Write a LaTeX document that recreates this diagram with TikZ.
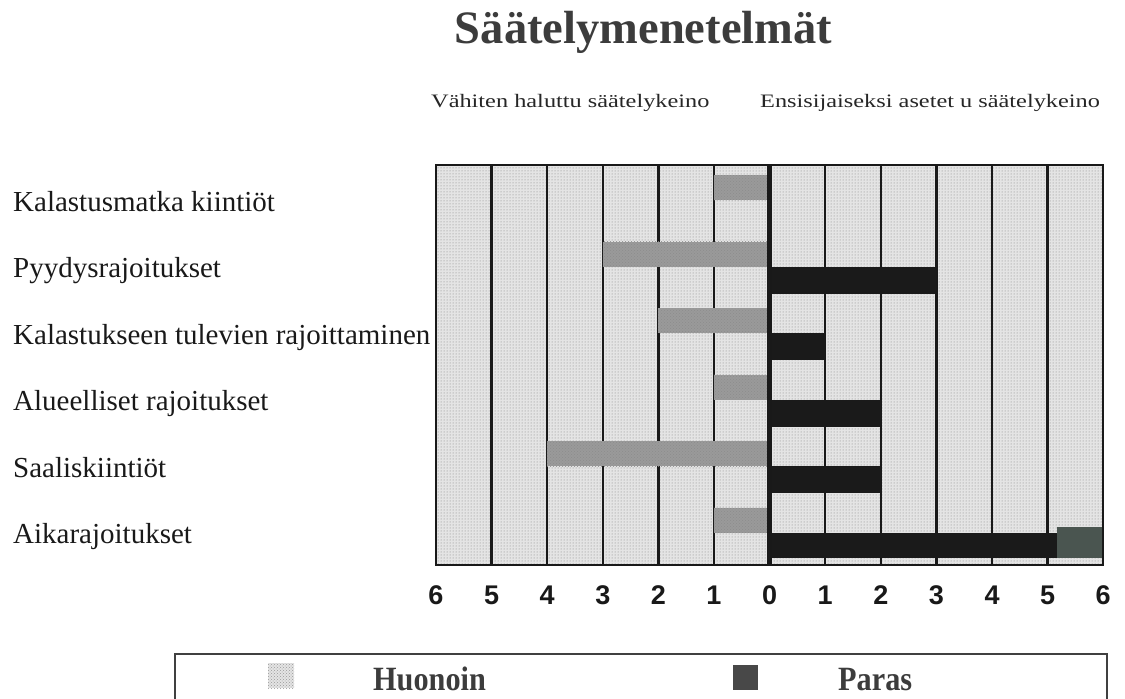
\documentclass[tikz,border=0pt]{standalone}
\usepackage{fontspec}
\setmainfont{Liberation Serif}
\newfontfamily\hdrfont[FakeStretch=1.28]{Liberation Serif}
\newfontfamily\legfont[FakeStretch=0.89]{Liberation Serif}
\newfontfamily\numfont{Liberation Sans}
\usetikzlibrary{patterns}
\definecolor{ink}{HTML}{3C3C3C}
\definecolor{barblack}{HTML}{1A1A1A}
\definecolor{cornergray}{HTML}{4A5550}
\definecolor{legblack}{HTML}{484848}
\definecolor{bglight}{HTML}{E4E4E4}
\definecolor{worstgray}{HTML}{9A9A9A}
\begin{document}
\begin{tikzpicture}[x=1pt,y=-1pt,
  titlestyle/.style={font=\fontsize{46.5}{50}\selectfont\bfseries, text=ink, anchor=base, inner sep=0},
  hdr/.style={font=\hdrfont\fontsize{19}{22}\selectfont, text=black!85, anchor=base west, inner sep=0},
  cat/.style={font=\fontsize{29}{32}\selectfont, text=black!90, anchor=base west, inner sep=0},
  num/.style={font=\numfont\bfseries\fontsize{27}{30}\selectfont, text=black!90, anchor=base, inner sep=0},
  leg/.style={font=\legfont\bfseries\fontsize{34}{36}\selectfont, text=ink, anchor=base west, inner sep=0},
  worstbar/.style={fill=worstgray},
  worstdots/.style={pattern=crosshatch dots, pattern color=black!45},
  bestbar/.style={fill=barblack},
  gridline/.style={line width=2.5pt, draw=black!90},
  zeroline/.style={line width=5pt, draw=black!90},
  frame/.style={line width=2.5pt, draw=black!90},
  legframe/.style={line width=1.8pt, draw=black!75}
]
\useasboundingbox (0,0) rectangle (1125,699);
\def\xz{769.5}
\def\unitw{55.6}

% title and headers
\node[titlestyle] (title) at (643.5,43) {Säätelymenetelmät};
\node[hdr] (hleft) at (431,107) {Vähiten haluttu säätelykeino};
\node[hdr] (hright) at (760,107) {Ensisijaiseksi asetet u säätelykeino};

% chart background
\coordinate (tl) at (436,165);
\coordinate (br) at (1103,565);
\fill[bglight] (tl) rectangle (br);
\fill[pattern=dots, pattern color=black!50] (tl) rectangle (br);

% grid lines
\foreach \k in {1,...,11}{
  \draw[gridline] ({436+\unitw*\k},165) -- ({436+\unitw*\k},565);
}

% bars: worst (left) and best (right)
\foreach \i/\w/\bb in {1/1/0, 2/3/3, 3/2/1, 4/1/2, 5/4/2}{
  \pgfmathsetmacro{\b}{200+66.5*(\i-1)}
  \fill[worstbar] ({\xz-\unitw*\w},\b-25) rectangle (\xz,\b);
  \fill[worstdots] ({\xz-\unitw*\w},\b-25) rectangle (\xz,\b);
  \ifnum\bb>0
    \fill[bestbar] (\xz,\b) rectangle ({\xz+\unitw*\bb},\b+27);
  \fi
}
% last row
\fill[worstbar] ({\xz-\unitw},507.5) rectangle (\xz,532.5);
\fill[worstdots] ({\xz-\unitw},507.5) rectangle (\xz,532.5);
\fill[bestbar] (\xz,532.5) rectangle (1057,558);
\fill[cornergray] (1057,527) rectangle (1103,558);

% zero line and frame
\draw[zeroline] (\xz,165) -- (\xz,565);
\draw[frame] (tl) rectangle (br);

% category labels
\node[cat] (c1) at (13,211) {Kalastusmatka kiintiöt};
\node[cat] (c2) at (13,277.5) {Pyydysrajoitukset};
\node[cat] (c3) at (13,344) {Kalastukseen tulevien rajoittaminen};
\node[cat] (c4) at (13,410.5) {Alueelliset rajoitukset};
\node[cat] (c5) at (13,477) {Saaliskiintiöt};
\node[cat] (c6) at (13,543.5) {Aikarajoitukset};

% axis numbers
\foreach \k/\lab in {0/6,1/5,2/4,3/3,4/2,5/1,6/0,7/1,8/2,9/3,10/4,11/5,12/6}{
  \node[num] (n\k) at ({436+\unitw*\k},604) {\lab};
}

% legend
\draw[legframe] (175,700) -- (175,654) -- (1107,654) -- (1107,700);
\fill[bglight] (268,663) rectangle (294,688);
\fill[pattern=crosshatch dots, pattern color=black!40] (268,663) rectangle (294,688);
\node[leg] (lworst) at (373,690) {Huonoin};
\fill[legblack] (733,665) rectangle (758,690);
\node[leg] (lbest) at (838,690) {Paras};
\end{tikzpicture}
\end{document}
